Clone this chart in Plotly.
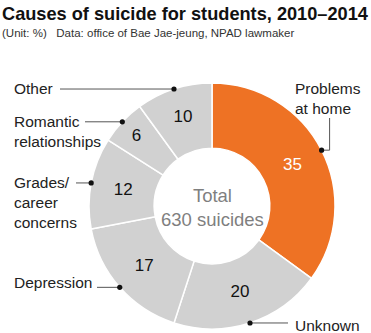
import math
import plotly.graph_objects as go

# ---- data ----
categories = ["Problems at home", "Unknown", "Depression", "Grades/ career concerns",
              "Romantic relationships", "Other"]
values = [35, 20, 17, 12, 6, 10]
label_texts = ["Problems<br>at home", "Unknown", "Depression", "Grades/<br>career<br>concerns",
               "Romantic<br>relationships", "Other"]
title_text = "Causes of suicide for students, 2010\u20132014"
subtitle_text = "(Unit: %)&nbsp;&nbsp;&nbsp;Data: office of Bae Jae-jeung, NPAD lawmaker"
center_text = "Total<br>630 suicides"

# ---- layout constants (pixels) ----
W, H = 371, 333
CX, CY, R = 212, 206, 123
ORANGE = "#EE7224"
GRAY = "#D1D1D1"


def px(x):
    return x / W


def py(y):
    return 1 - y / H


colors = [ORANGE] + [GRAY] * (len(values) - 1)
text_colors = ["white"] + ["#111111"] * (len(values) - 1)

fig = go.Figure(go.Pie(
    labels=categories,
    values=values,
    text=[str(v) for v in values],
    textinfo="text",
    textposition="inside",
    insidetextorientation="horizontal",
    insidetextfont=dict(family="Liberation Sans, Arial", size=17, color=text_colors),
    hole=0.47,
    sort=False,
    direction="clockwise",
    rotation=0,
    marker=dict(colors=colors, line=dict(color="white", width=1.5)),
    domain=dict(x=[px(CX - R), px(CX + R)], y=[py(CY + R), py(CY - R)]),
    hoverinfo="label+value",
    showlegend=False,
))

# label positions (block left x / block center y), line endpoints beside the text
label_pos = {
    "Problems at home": dict(x=293, y=98, side="right"),
    "Unknown": dict(x=293, y=325, side="right", line_to=288),
    "Depression": dict(x=12, y=282, side="left", line_from=97),
    "Grades/ career concerns": dict(x=12, y=202.5, side="left", line_from=76),
    "Romantic relationships": dict(x=12, y=131, side="left", line_from=85),
    "Other": dict(x=12, y=88, side="left", line_from=60),
}

annotations = []
shapes = []
total = sum(values)
cum = 0
for cat, v, lt in zip(categories, values, label_texts):
    theta = math.radians((cum + v / 2) / total * 360)
    cum += v
    dx = CX + R * math.sin(theta)
    dy = CY - R * math.cos(theta)
    pos = label_pos[cat]
    annotations.append(dict(
        x=px(pos["x"]), y=py(pos["y"]), xref="paper", yref="paper",
        xanchor="left", yanchor="middle", align="left", showarrow=False,
        text=lt, font=dict(family="Liberation Sans, Arial", size=15.5, color="#222222"),
    ))
    line_style = dict(color="#555555", width=1)
    if "line_from" in pos:
        shapes.append(dict(type="line", xref="paper", yref="paper",
                           x0=px(pos["line_from"]), x1=px(dx), y0=py(dy), y1=py(dy),
                           line=line_style))
    elif "line_to" in pos:
        shapes.append(dict(type="line", xref="paper", yref="paper",
                           x0=px(dx), x1=px(pos["line_to"]), y0=py(dy), y1=py(dy),
                           line=line_style))
    else:
        elbow_x = dx + 8
        shapes.append(dict(type="path", xref="paper", yref="paper",
                           path=f"M {px(dx)},{py(dy)} L {px(elbow_x)},{py(dy)} L {px(elbow_x)},{py(118)}",
                           line=line_style))
    rdot = 2.6
    shapes.append(dict(type="circle", xref="paper", yref="paper",
                       x0=px(dx - rdot), x1=px(dx + rdot), y0=py(dy + rdot), y1=py(dy - rdot),
                       fillcolor="#111111", line=dict(width=0)))

annotations.append(dict(
    x=px(CX), y=py(CY + 1), xref="paper", yref="paper", showarrow=False,
    xanchor="center", yanchor="middle", text=center_text,
    font=dict(family="Liberation Sans, Arial", size=18.5, color="#7F7F7F"),
))
annotations.append(dict(
    x=px(0), y=py(2), xref="paper", yref="paper", showarrow=False,
    xanchor="left", yanchor="top", text=title_text,
    font=dict(family="Liberation Sans, Arial", size=18.2, color="#111111", weight="bold"),
))
annotations.append(dict(
    x=px(0), y=py(33), xref="paper", yref="paper", showarrow=False,
    xanchor="left", yanchor="middle", text=subtitle_text,
    font=dict(family="Liberation Sans, Arial", size=11.5, color="#333333"),
))

fig.update_layout(
    width=W, height=H,
    margin=dict(l=0, r=0, t=0, b=0),
    paper_bgcolor="white", plot_bgcolor="white",
    annotations=annotations, shapes=shapes,
)

fig.write_html("out.html", config={"displayModeBar": False})
